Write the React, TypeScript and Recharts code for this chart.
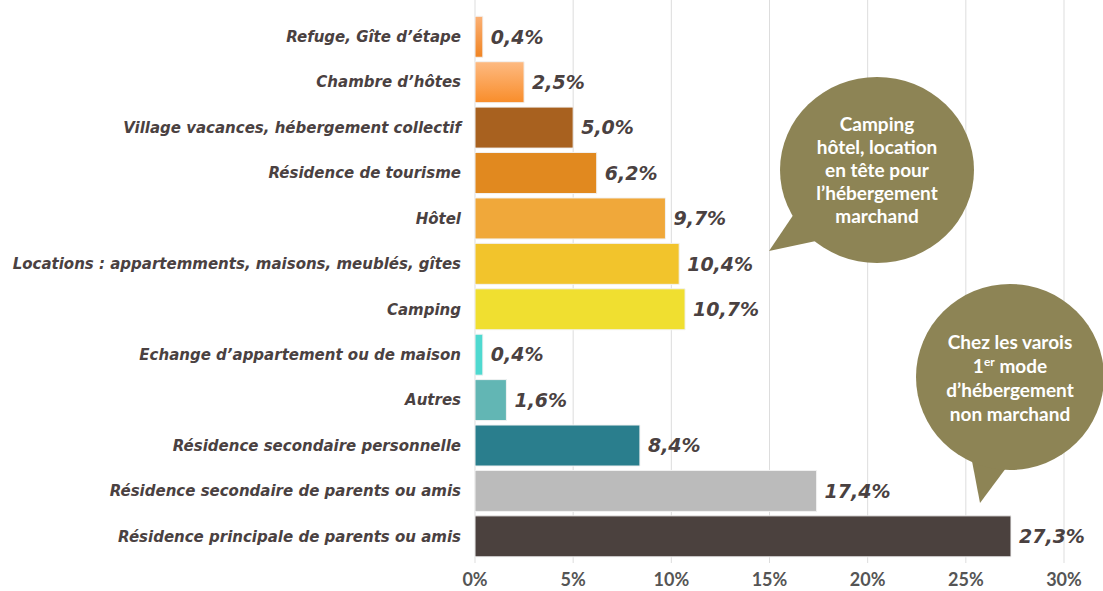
import React from 'react';
import { BarChart, Bar, XAxis, YAxis, CartesianGrid, Cell, LabelList } from 'recharts';

const categories = [
  'Refuge, Gîte d\u2019étape',
  'Chambre d\u2019hôtes',
  'Village vacances, hébergement collectif',
  'Résidence de tourisme',
  'Hôtel',
  'Locations : appartemments, maisons, meublés, gîtes',
  'Camping',
  'Echange d\u2019appartement ou de maison',
  'Autres',
  'Résidence secondaire personnelle',
  'Résidence secondaire de parents ou amis',
  'Résidence principale de parents ou amis',
];
const values = [0.4, 2.5, 5.0, 6.2, 9.7, 10.4, 10.7, 0.4, 1.6, 8.4, 17.4, 27.3];
const xTicks = [0, 5, 10, 15, 20, 25, 30];
const barColors = [
  'url(#gradRefuge)', 'url(#gradChambre)', '#a8611f', '#e1891f', '#f0a83a', '#f2c42c',
  '#f0df30', '#4fd9d0', '#62b6b4', '#2a7e8d', '#bbbbbb', '#4b413e',
];
const bubble1 = ['Camping', 'hôtel, location', 'en tête pour', 'l\u2019hébergement', 'marchand'];
const bubble2 = ['Chez les varois', '1|er| mode', 'd\u2019hébergement', 'non marchand'];

const data = categories.map((c, i) => ({ name: c, value: values[i] }));

const fmt = (v: number) => v.toFixed(1).replace('.', ',') + '%';

const labelFont = '"DejaVu Sans", Verdana, sans-serif';
const roundFont = 'Lato, "Open Sans", sans-serif';
const bubbleColor = '#8d8455';

export default function App() {
  return (
    <div style={{ position: 'absolute', left: 0, top: 0, width: 1103, height: 591, background: '#fff' }}>
      <BarChart
        width={1103}
        height={591}
        data={data}
        layout="vertical"
        margin={{ top: 0, right: 39, bottom: 0, left: 0 }}
        barCategoryGap="5%"
      >
        <defs>
          <linearGradient id="gradRefuge" x1="0" y1="0" x2="0" y2="1">
            <stop offset="0%" stopColor="#fbb074" />
            <stop offset="100%" stopColor="#f08423" />
          </linearGradient>
          <linearGradient id="gradChambre" x1="0" y1="0" x2="0" y2="1">
            <stop offset="0%" stopColor="#fdba82" />
            <stop offset="100%" stopColor="#f98d2a" />
          </linearGradient>
        </defs>
        <CartesianGrid horizontal={false} stroke="#dddddd" />
        <XAxis
          type="number"
          domain={[0, 30]}
          ticks={xTicks}
          tickFormatter={(v: number) => `${v}%`}
          axisLine={false}
          tickLine={false}
          height={28}
          tickMargin={4}
          tick={{ fill: '#555', fontSize: 18, fontFamily: roundFont, fontWeight: 700 }}
        />
        <YAxis
          type="category"
          dataKey="name"
          width={475}
          axisLine={false}
          tickLine={false}
          tickMargin={8}
          padding={{ top: 14, bottom: 4 }}
          interval={0}
          tick={{ fill: '#4a4141', fontSize: 15, fontFamily: labelFont, fontWeight: 700, fontStyle: 'italic' }}
        />
        <Bar dataKey="value" isAnimationActive={false} stroke="#f2f2f2" strokeWidth={1}>
          {data.map((d, i) => (
            <Cell key={d.name} fill={barColors[i]} />
          ))}
          <LabelList
            dataKey="value"
            position="right"
            offset={8}
            formatter={(v: number) => fmt(v)}
            style={{ fill: '#4a4141', fontSize: 19, fontFamily: labelFont, fontWeight: 700, fontStyle: 'italic' }}
          />
        </Bar>
      </BarChart>
      <svg width={1103} height={591} style={{ position: 'absolute', left: 0, top: 0, pointerEvents: 'none' }}>
        <g>
          <path d="M 800 205 L 769 251 L 830 238 Z" fill={bubbleColor} />
          <ellipse cx={877} cy={170} rx={97} ry={93} fill={bubbleColor} />
          <text textAnchor="middle" fill="#fff" fontFamily={roundFont} fontWeight={700} fontSize={19}>
            {bubble1.map((l, i) => (
              <tspan key={i} x={877} y={131 + i * 23}>{l}</tspan>
            ))}
          </text>
        </g>
        <g>
          <path d="M 968 440 L 980 503 L 1012 460 Z" fill={bubbleColor} />
          <ellipse cx={1010} cy={377} rx={94} ry={93} fill={bubbleColor} />
          <text textAnchor="middle" fill="#fff" fontFamily={roundFont} fontWeight={700} fontSize={19}>
            {bubble2.map((l, i) => {
              const parts = l.split('|');
              return (
                <tspan key={i} x={1010} y={349 + i * 24}>
                  {parts.length > 1 ? (
                    <>
                      {parts[0]}
                      <tspan fontSize={12} dy={-7}>{parts[1]}</tspan>
                      <tspan dy={7}>{parts[2]}</tspan>
                    </>
                  ) : l}
                </tspan>
              );
            })}
          </text>
        </g>
      </svg>
    </div>
  );
}
